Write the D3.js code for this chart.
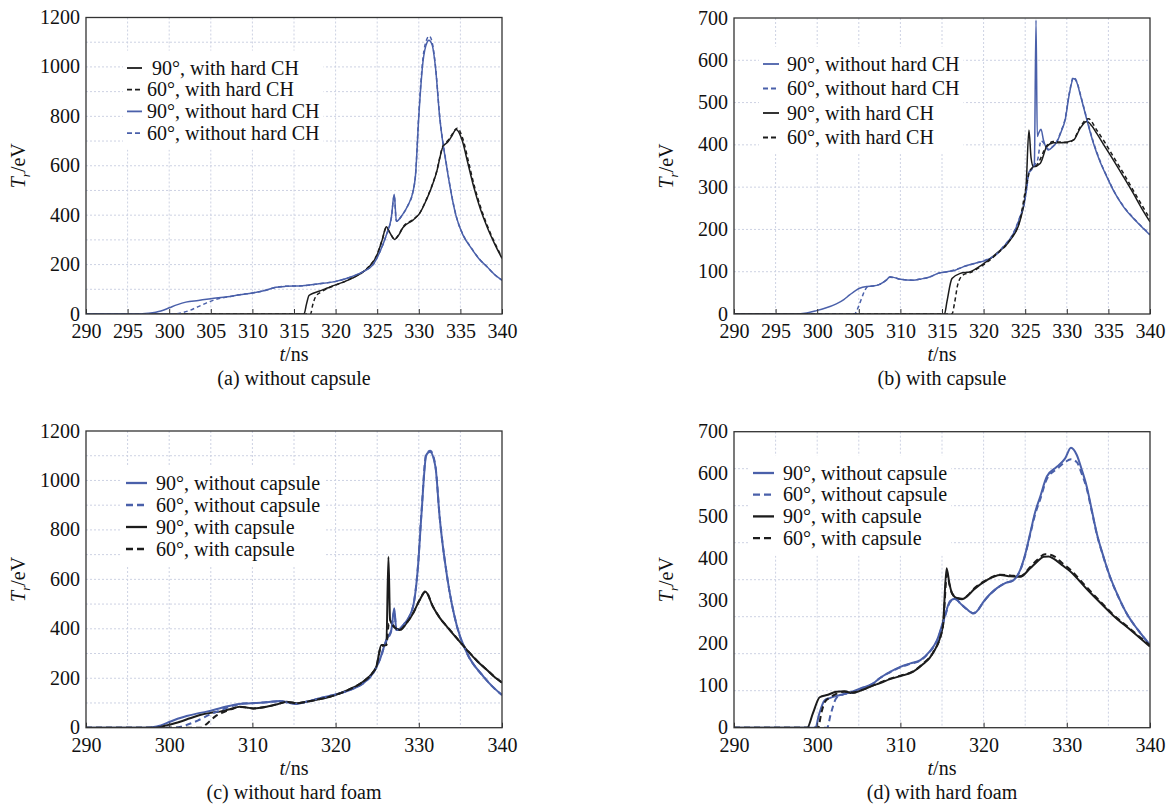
<!DOCTYPE html>
<html><head><meta charset="utf-8">
<script src="https://cdn.jsdelivr.net/npm/d3@7"></script>
<style>
body{margin:0;background:#fff;}
</style></head><body>
<svg id="chart" width="1175" height="804"></svg>
<script>
// ---------------- DATA (t in ns, Tr in eV) ----------------
// Panel (a): without capsule
const a_black90 = [[290,0],[316.2,0],[316.5,40],[316.8,75],[317.3,84],[318,92],[319,105],[320,118],[321,130],[322,145],[323,163],[324,190],[325,240],[325.6,300],[326.1,353],[326.5,330],[327.1,302],[327.6,320],[328.1,350],[329.3,380],[330.1,407],[330.9,461],[331.5,510],[332.1,569],[332.9,677],[333.5,697],[333.9,717],[334.5,747],[335.2,704],[335.9,610],[336.6,515],[337.4,425],[338.2,353],[339.1,285],[340,225]];
const a_black60 = [[290,0],[317,0],[317.2,30],[317.6,70],[318.2,88],[319,103],[320,117],[321,130],[322,146],[323,164],[324,192],[325,242],[325.6,300],[326.1,350],[326.5,330],[327.1,303],[327.6,322],[328.1,352],[329.3,382],[330.1,408],[330.9,463],[331.5,512],[332.1,572],[332.9,680],[333.5,702],[333.9,722],[334.6,752],[335.3,708],[336,612],[336.7,515],[337.5,425],[338.3,352],[339.2,283],[340,228]];
const a_blue90 = [[290,0],[296,0],[297.5,3],[299,12],[300,25],[301,38],[302,48],[303.5,55],[305,62],[307,70],[308.5,78],[310,85],[311.5,95],[312.8,108],[314,112],[316,114],[318,122],[320,132],[322,152],[323.5,175],[324.5,200],[325.3,250],[326.1,320],[326.7,390],[327.05,485],[327.3,375],[328,400],[328.7,440],[329.3,495],[329.6,560],[330,800],[330.5,1020],[331,1100],[331.2,1108],[331.6,1090],[332,1000],[332.5,800],[333.35,596],[334.5,394],[335.3,320],[336.2,272],[337.2,225],[338.2,191],[339.1,160],[340,137]];
const a_blue60 = [[290,0],[300.5,0],[301.5,5],[302.5,15],[303.5,30],[304.5,45],[305.5,58],[306.5,66],[308,75],[308.5,78],[310,85],[311.5,95],[312.8,108],[314,112],[316,114],[318,122],[320,132],[322,152],[323.5,175],[324.5,200],[325.3,250],[326.1,320],[326.7,390],[327.05,480],[327.3,375],[328,400],[328.7,440],[329.3,495],[329.6,560],[330,810],[330.5,1035],[331,1115],[331.25,1125],[331.6,1100],[332,1005],[332.5,805],[333.35,600],[334.5,396],[335.3,322],[336.2,273],[337.2,226],[338.2,191],[339.1,160],[340,137]];

// Panel (b): with capsule
const b_blue90 = [[290,0],[297,0],[298.5,2],[299.9,8],[301,14],[302.3,24],[303.2,34],[303.9,45],[305.1,61],[306,65],[306.7,66],[307.5,70],[308.3,80],[308.75,88],[309.3,86],[310,82],[311.5,80],[312.5,83],[313.6,88],[314.5,96],[315.6,100],[316.5,103],[317.6,112],[319,120],[320.4,128],[321.5,140],[322.4,159],[323.6,191],[324.4,230],[324.8,254],[325.2,300],[325.4,333],[325.8,344],[326.1,355],[326.3,695],[326.45,420],[326.6,427],[326.9,437],[327.2,411],[327.8,388],[328.3,395],[328.8,407],[329.3,430],[329.8,459],[330.3,520],[330.8,557],[331.2,548],[331.6,520],[332,490],[333.2,404],[334,360],[334.8,325],[335.8,285],[336.8,254],[338.4,218],[340,187]];
const b_blue60 = [[290,0],[304.5,0],[304.8,10],[305.3,35],[305.7,55],[306.1,65],[306.7,66],[307.5,70],[308.3,80],[308.75,87],[309.3,86],[310,82],[311.5,80],[312.5,83],[313.6,88],[314.5,96],[315.6,100],[316.5,104],[317.6,112],[319,120],[320.4,129],[321.5,141],[322.4,160],[323.6,192],[324.4,232],[324.8,256],[325.2,300],[325.4,330],[325.8,342],[326.1,352],[326.5,365],[326.9,410],[327.2,405],[327.8,390],[328.3,396],[328.8,408],[329.3,432],[329.8,462],[330.3,522],[330.8,560],[331.2,550],[331.6,522],[332,492],[333.2,406],[334,362],[334.8,326],[335.8,286],[336.8,255],[338.4,219],[340,188]];
const b_black90 = [[290,0],[315.3,0],[315.6,30],[316.2,84],[317.2,96],[318.4,100],[319.8,116],[321.6,144],[323.2,175],[324.4,222],[325.1,301],[325.45,435],[325.7,370],[326,348],[326.8,356],[327.6,396],[328.4,405],[329.2,405],[330,407],[330.8,411],[331.6,439],[332.4,455],[333,445],[333.6,427],[334.6,395],[335.6,364],[336.8,325],[338,285],[339,250],[340,218]];
const b_black60 = [[290,0],[316.2,0],[316.5,25],[316.9,70],[317.5,92],[318.4,98],[319.8,114],[321.6,142],[323.2,176],[324.4,225],[325.1,300],[325.6,340],[326.5,355],[327.6,398],[328.4,408],[330,405],[330.8,412],[331.6,442],[332.6,462],[333.6,435],[334.6,405],[335.6,372],[336.8,333],[338,292],[339,258],[340,225]];

// Panel (c): without hard foam
const c_blue90 = [[290,0],[297,0],[298.5,5],[300.1,24],[301,36],[302.1,47],[303.3,57],[304.5,65],[306,78],[307.7,92],[309,98],[310.5,100],[312,104],[313.3,108],[314.5,100],[315.3,96],[316.5,105],[318.1,119],[320.5,139],[322,156],[323.3,179],[324.5,220],[325.3,274],[326.1,355],[326.7,395],[327.05,483],[327.3,395],[328.3,422],[329.3,489],[329.9,651],[330.3,853],[330.9,1103],[331.35,1116],[332,1055],[332.5,853],[333.4,611],[334.6,408],[335.8,301],[337.8,206],[338.9,165],[340,132]];
const c_blue60 = [[290,0],[300.5,0],[302,10],[303.5,30],[305,55],[306.5,75],[308,92],[309,98],[310.5,100],[312,104],[313.3,107],[314.5,100],[315.3,97],[316.5,105],[318.1,119],[320.5,139],[322,156],[323.3,179],[324.5,220],[325.3,274],[326.1,352],[326.7,392],[327.05,470],[327.3,395],[328.3,422],[329.3,489],[329.9,655],[330.3,860],[330.9,1108],[331.4,1120],[332,1058],[332.5,856],[333.4,612],[334.6,408],[335.8,301],[337.8,206],[338.9,165],[340,132]];
const c_black90 = [[290,0],[298.5,0],[299.5,8],[301.3,24],[302.5,38],[303.7,51],[305,60],[306.1,65],[307.3,75],[308.5,85],[309.3,82],[310.1,78],[311.7,85],[313,95],[314.1,105],[315.3,99],[316.5,105],[318,115],[319.3,125],[321.3,150],[323.3,186],[324.4,220],[324.9,247],[325.5,334],[326.1,334],[326.35,691],[326.55,435],[327.1,408],[327.7,395],[328.5,422],[329.3,462],[330.1,516],[330.8,550],[331.7,489],[332.5,445],[333.4,408],[334.6,360],[335.8,314],[337,270],[338.2,233],[339.1,205],[340,182]];
const c_black60 = [[290,0],[303.8,0],[304.3,10],[304.8,24],[305.5,45],[306.5,62],[307.5,75],[308.5,84],[309.3,82],[310.1,78],[311.7,85],[313,95],[314.1,104],[315.3,99],[316.5,105],[318,115],[319.3,125],[321.3,150],[323.3,186],[324.4,220],[324.9,247],[325.5,330],[326.1,334],[326.4,420],[326.6,420],[327.1,405],[327.7,395],[328.5,422],[329.3,462],[330.1,516],[330.8,552],[331.7,490],[332.5,446],[333.4,409],[334.6,361],[335.8,315],[337,271],[338.2,234],[339.1,206],[340,183]];

// Panel (d): with hard foam
const d_blue90 = [[290,0],[299.8,0],[300.2,30],[300.9,65],[301.5,70],[302.3,75],[303.3,80],[304.2,85],[305.5,95],[306.75,105],[307.5,117],[308.75,132],[310,144],[311.2,152],[312.4,160],[313.5,180],[314.4,207],[315.2,255],[316,300],[316.6,305],[317.2,294],[318,280],[318.8,270],[319.4,280],[320,298],[321.6,330],[322.6,342],[323.6,349],[324.4,373],[325,410],[325.6,460],[326.2,510],[326.8,546],[327.6,594],[328.8,617],[329.8,637],[330.5,662],[331.2,645],[331.8,610],[332.4,570],[333,515],[333.6,460],[334.4,405],[335.2,357],[336.2,310],[337.2,270],[338.6,230],[340,196]];
const d_blue60 = [[290,0],[301.2,0],[301.6,30],[302.3,70],[303,78],[304.2,83],[305.5,94],[306.75,105],[307.5,117],[308.75,131],[310,143],[311.2,151],[312.4,159],[313.5,179],[314.4,205],[315.2,252],[316,298],[316.6,304],[317.2,294],[318,280],[318.8,271],[319.4,281],[320,298],[321.6,330],[322.6,342],[323.6,349],[324.4,372],[325,408],[325.6,457],[326.2,505],[326.8,540],[327.6,588],[328.8,612],[329.8,628],[330.5,635],[331.2,628],[331.8,600],[332.4,565],[333,512],[333.6,458],[334.4,404],[335.2,356],[336.2,309],[337.2,270],[338.6,230],[340,196]];
const d_black90 = [[290,0],[298.8,0],[299.5,35],[300.3,72],[301.3,78],[302.3,85],[303.3,86],[304.2,82],[305.5,90],[306.75,100],[307.5,105],[308.75,115],[310,122],[311.5,132],[312.7,150],[313.9,176],[315.1,239],[315.55,377],[315.9,340],[316.2,318],[316.8,306],[317.4,304],[318.1,312],[318.8,326],[320.4,349],[322,361],[323.2,358],[324.4,357],[325.6,377],[326.4,392],[327.2,404],[327.8,405],[328.4,400],[329.4,385],[330.4,370],[332.4,328],[334,296],[335.6,265],[337.6,232],[340,192]];
const d_black60 = [[290,0],[300.1,0],[300.5,35],[300.9,60],[301.6,72],[302.5,82],[303.3,85],[304.2,83],[305.5,90],[306.75,100],[307.5,106],[308.75,116],[310,123],[311.5,133],[312.7,151],[313.9,177],[315.1,238],[315.6,362],[315.9,338],[316.2,318],[316.8,307],[317.4,305],[318.1,313],[318.8,328],[320.4,350],[322,362],[323.2,360],[324.4,358],[325.6,380],[326.4,396],[327.4,410],[328,409],[328.6,404],[329.4,390],[330.4,374],[332.4,332],[334,299],[335.6,267],[337.6,234],[340,194]];

// Tick labels / captions
const xTicksAB = [290,295,300,305,310,315,320,325,330,335,340];
const xTicksCD = [290,300,310,320,330,340];
const yTicks1200 = [0,200,400,600,800,1000,1200];
const yTicks700 = [0,100,200,300,400,500,600,700];
const captions = ["(a) without capsule","(b) with capsule","(c) without hard foam","(d) with hard foam"];
const legendA = [" 90°, with hard CH","60°, with hard CH","90°, without hard CH","60°, without hard CH"];
const legendB = ["90°, without hard CH","60°, without hard CH","90°, with hard CH","60°, with hard CH"];
const legendCD = ["90°, without capsule","60°, without capsule","90°, with capsule","60°, with capsule"];

// ---------------- FONT PICK (first installed serif) ----------------
function pickFont(cands){
  const c = document.createElement("canvas").getContext("2d");
  const s = "(a) without capsule 0123456789 WMiil";
  for (const base of ["monospace","sans-serif"]) {
    c.font = "40px " + base; const w0 = c.measureText(s).width;
    for (const f of cands) {
      c.font = `40px "${f}", ${base}`;
      if (Math.abs(c.measureText(s).width - w0) > 0.5) return f;
    }
  }
  return null;
}
const picked = pickFont(["Liberation Serif","Tinos","Times New Roman","DejaVu Serif","Noto Serif","FreeSerif","Nimbus Roman","Nimbus Roman No9 L","Times","serif"]);
const FONT = picked ? `"${picked}", serif` : "serif";

// ---------------- DRAWING ----------------
const BLUE = "#4a60aa", BLACK = "#1c1c1c";
const svg = d3.select("#chart").style("font-family", FONT);

const panels = [
  {left:86, top:17.5, w:416, h:296.5, yMax:1200, yTicks:yTicks1200, xTicks:xTicksAB, gridX:5, gridY:100, cap:captions[0], lw:1.5, dash:"4,3",
   legend:{lx:127, ll:15, tx:147, y0:68, dy:21.7},
   series:[{d:a_black90,c:BLACK,dash:false,n:legendA[0]},{d:a_black60,c:BLACK,dash:true,n:legendA[1]},{d:a_blue90,c:BLUE,dash:false,n:legendA[2]},{d:a_blue60,c:BLUE,dash:true,n:legendA[3]}]},
  {left:734, top:18, w:416, h:296, yMax:700, yTicks:yTicks700, xTicks:xTicksAB, gridX:5, gridY:100, cap:captions[1], lw:1.5, dash:"4,3",
   legend:{lx:763, ll:16, tx:787, y0:64, dy:24.5},
   series:[{d:b_blue90,c:BLUE,dash:false,n:legendB[0]},{d:b_blue60,c:BLUE,dash:true,n:legendB[1]},{d:b_black90,c:BLACK,dash:false,n:legendB[2]},{d:b_black60,c:BLACK,dash:true,n:legendB[3]}]},
  {left:86, top:431, w:416, h:296.7, yMax:1200, yTicks:yTicks1200, xTicks:xTicksCD, gridX:5, gridY:100, cap:captions[2], lw:2, dash:"6,4",
   legend:{lx:126, ll:21, tx:156, y0:483, dy:22},
   series:[{d:c_blue90,c:BLUE,dash:false,n:legendCD[0]},{d:c_blue60,c:BLUE,dash:true,n:legendCD[1]},{d:c_black90,c:BLACK,dash:false,n:legendCD[2]},{d:c_black60,c:BLACK,dash:true,n:legendCD[3]}]},
  {left:734, top:431.7, w:416, h:296, yMax:700, yTicks:yTicks700, xTicks:xTicksCD, gridX:5, gridY:87.5, cap:captions[3], lw:2, dash:"6,4",
   legend:{lx:753, ll:21, tx:783, y0:473, dy:21.7},
   series:[{d:d_blue90,c:BLUE,dash:false,n:legendCD[0]},{d:d_blue60,c:BLUE,dash:true,n:legendCD[1]},{d:d_black90,c:BLACK,dash:false,n:legendCD[2]},{d:d_black60,c:BLACK,dash:true,n:legendCD[3]}]}
];

panels.forEach((p, i) => {
  const x = d3.scaleLinear().domain([290,340]).range([p.left, p.left+p.w]);
  const y = d3.scaleLinear().domain([0,p.yMax]).range([p.top+p.h, p.top]);
  const g = svg.append("g");

  // grid
  const gx = d3.range(295, 340, p.gridX);
  const gy = d3.range(p.gridY, p.yMax - 1, p.gridY);
  g.selectAll(".gx").data(gx).join("line")
    .attr("x1", d=>x(d)).attr("x2", d=>x(d)).attr("y1", p.top).attr("y2", p.top+p.h)
    .attr("stroke","#cdd2e3").attr("stroke-width",1).attr("stroke-dasharray","2,2");
  g.selectAll(".gy").data(gy).join("line")
    .attr("x1", p.left).attr("x2", p.left+p.w).attr("y1", d=>y(d)).attr("y2", d=>y(d))
    .attr("stroke","#cdd2e3").attr("stroke-width",1).attr("stroke-dasharray","2,2");

  const cid = "clip"+i;
  svg.append("defs").append("clipPath").attr("id",cid).append("rect")
    .attr("x",p.left).attr("y",p.top).attr("width",p.w).attr("height",p.h);

  const L = p.legend;
  const legBg = g.append("rect").attr("fill","#fff");

  const line = d3.line().x(d=>x(d[0])).y(d=>y(d[1])).curve(d3.curveMonotoneX);
  const lg = g.append("g").attr("clip-path",`url(#${cid})`);
  p.series.filter(s=>!s.dash).concat(p.series.filter(s=>s.dash)).forEach(s => {
    lg.append("path").datum(s.d).attr("d", line).attr("fill","none")
      .attr("stroke", s.c).attr("stroke-width", p.lw)
      .attr("stroke-dasharray", s.dash ? p.dash : null)
      .attr("stroke-linejoin","round");
  });

  // axes
  const xAxis = d3.axisBottom(x).tickValues(p.xTicks).tickSizeInner(-5).tickSizeOuter(0).tickPadding(10).tickFormat(d3.format("d"));
  const ax = g.append("g").attr("transform",`translate(0,${p.top+p.h})`).call(xAxis)
    .attr("font-family", null).attr("font-size", 20);
  ax.select(".domain").remove();
  ax.selectAll("line").attr("stroke","#333");
  ax.selectAll("text").attr("fill","#111");

  const yAxis = d3.axisLeft(y).tickValues(p.yTicks).tickSizeInner(0).tickSizeOuter(0).tickPadding(6).tickFormat(d3.format("d"));
  const ay = g.append("g").attr("transform",`translate(${p.left},0)`).call(yAxis)
    .attr("font-family", null).attr("font-size", 20);
  ay.select(".domain").remove();
  ay.selectAll("text").attr("fill","#111").attr("dy","0.3em");

  // frame
  g.append("rect").attr("x",p.left).attr("y",p.top).attr("width",p.w).attr("height",p.h)
    .attr("fill","none").attr("stroke","#333").attr("stroke-width",1.3);

  // y label
  const ylab = g.append("text").attr("transform",`translate(${p.left-61},${p.top+p.h/2}) rotate(-90)`)
    .attr("text-anchor","middle").attr("font-size",20).attr("fill","#111");
  ylab.append("tspan").attr("font-style","italic").text("T");
  ylab.append("tspan").attr("font-style","italic").attr("font-size",13).attr("dy",5).text("r");
  ylab.append("tspan").attr("dy",-5).text("/eV");

  // x label
  const xlab = g.append("text").attr("x", p.left+p.w/2).attr("y", p.top+p.h+47)
    .attr("text-anchor","middle").attr("font-size",20).attr("fill","#111");
  xlab.append("tspan").attr("font-style","italic").text("t");
  xlab.append("tspan").text("/ns");

  // caption
  g.append("text").attr("x", p.left+p.w/2).attr("y", p.top+p.h+71)
    .attr("text-anchor","middle").attr("font-size",20).attr("fill","#111").text(p.cap);

  // legend
  const leg = g.append("g");
  p.series.forEach((s, k) => {
    const yy = L.y0 + k*L.dy;
    leg.append("line").attr("x1",L.lx).attr("x2",L.lx+L.ll).attr("y1",yy).attr("y2",yy)
      .attr("stroke", s.c).attr("stroke-width", p.lw+0.3)
      .attr("stroke-dasharray", s.dash ? (p.lw>1.8 ? "7,4" : "5,3") : null);
    leg.append("text").attr("x",L.tx).attr("y",yy).attr("dy","0.33em")
      .attr("font-size",20).attr("fill","#111").style("white-space","pre").text(s.n);
  });
  const bb = leg.node().getBBox();
  legBg.attr("x",bb.x-4).attr("y",bb.y-6).attr("width",bb.width+8).attr("height",bb.height+12);
});
</script>
</body></html>
